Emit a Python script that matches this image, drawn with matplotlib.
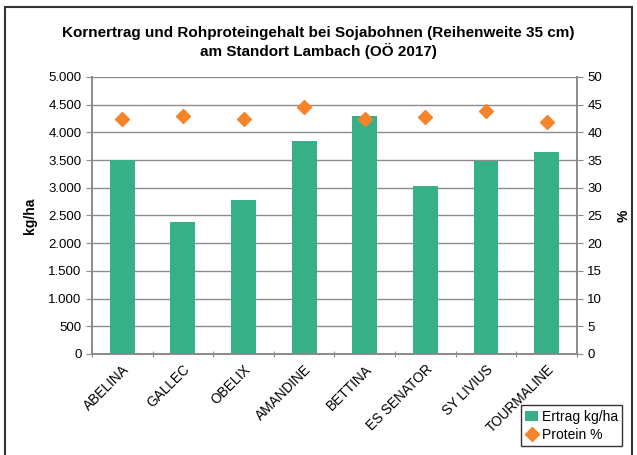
import matplotlib.pyplot as plt
from matplotlib.patches import Rectangle
from matplotlib.ticker import FuncFormatter
from matplotlib.transforms import ScaledTranslation
import numpy as np

plt.rcParams['font.family'] = ['Liberation Sans', 'DejaVu Sans']

# data
sorten = ['ABELINA', 'GALLEC', 'OBELIX', 'AMANDINE', 'BETTINA',
          'ES SENATOR', 'SY LIVIUS', 'TOURMALINE']
ertrag = [3500, 2380, 2780, 3845, 4295, 3030, 3490, 3645]   # kg/ha
protein = [42.5, 43.0, 42.5, 44.5, 42.4, 42.8, 43.9, 41.9]  # %

titel = 'Kornertrag und Rohproteingehalt bei Sojabohnen (Reihenweite 35 cm)\nam Standort Lambach (OÖ 2017)'

gruen = '#38B087'
orange = '#F5832A'
gitter = '#8C8C8C'

fig = plt.figure(figsize=(6.37, 4.55), dpi=100)
ax = fig.add_axes([0.1444, 0.222, 0.7614, 0.6088])
ax2 = ax.twinx()

x = np.arange(len(sorten))
b = ax.bar(x, ertrag, width=0.41, color=gruen, zorder=3, label='Ertrag kg/ha')
p, = ax2.plot(x, protein, linestyle='none', marker='D', markersize=7,
              color=orange, zorder=4, label='Protein %')

ax.set_xlim(-0.5, len(sorten) - 0.5)
ax.set_ylim(0, 5000)
ax.set_yticks(np.arange(0, 5001, 500))
ax.yaxis.set_major_formatter(FuncFormatter(lambda v, pos: f'{int(v):,}'.replace(',', '.')))
ax2.set_ylim(0, 50)
ax2.set_yticks(np.arange(0, 51, 5))

ax.grid(axis='y', color=gitter, linewidth=1.0, zorder=0)
ax.set_axisbelow(True)
ax2.set_zorder(ax.get_zorder() + 1)
ax2.patch.set_visible(False)

# category ticks sit between the bars
ax.set_xticks(np.arange(-0.5, len(sorten), 1.0))
ax.set_xticklabels([])
ax.set_xticks(x, minor=True)
ax.set_xticklabels(sorten, minor=True, rotation=45, ha='right', va='top',
                   rotation_mode='anchor', fontsize=9.8)
verschub = ScaledTranslation(-7 / 100, 0, fig.dpi_scale_trans)
for t in ax.get_xticklabels(minor=True):
    t.set_transform(t.get_transform() + verschub)
ax.tick_params(axis='x', which='minor', length=0, pad=6)
ax.tick_params(axis='x', which='major', length=5, color=gitter, direction='inout')
ax.tick_params(axis='y', length=4, color=gitter, labelsize=9.5)
ax2.tick_params(axis='y', length=4, color=gitter, labelsize=9.5)

for a in (ax, ax2):
    a.spines['top'].set_visible(False)
    for s in ('left', 'right', 'bottom'):
        a.spines[s].set_color(gitter)
        a.spines[s].set_linewidth(1.3)

ax.set_ylabel('kg/ha', fontsize=10, fontweight='bold', labelpad=8)
ax2.set_ylabel('%', fontsize=10, fontweight='bold', labelpad=10)

fig.text(0.5, 0.906, titel, ha='center', va='center', fontsize=11,
         fontweight='bold', linespacing=1.2)

leg = fig.legend([b, p], ['Ertrag kg/ha', 'Protein %'], loc='lower right',
                 bbox_to_anchor=(0.977, 0.02), fontsize=10, frameon=True,
                 fancybox=False, edgecolor='black', handlelength=0.9,
                 handletextpad=0.3, borderpad=0.3, labelspacing=0.3,
                 borderaxespad=0)
leg.get_frame().set_linewidth(1.0)

# outer chart frame
fig.patches.append(Rectangle((5 / 637, -0.05), 627 / 637, 1.05 - 7 / 455,
                             transform=fig.transFigure, fill=False,
                             edgecolor='#333333', linewidth=1.5))

fig.savefig('out.png', dpi=100)
